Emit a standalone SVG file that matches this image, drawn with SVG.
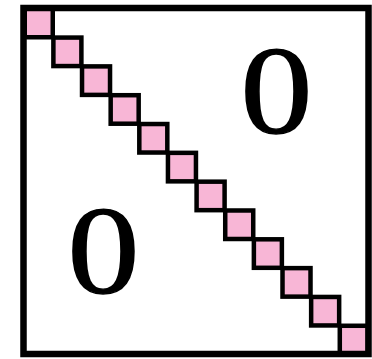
<svg xmlns="http://www.w3.org/2000/svg" width="372" height="359" viewBox="0 0 372 359">
<style>
.cell{fill:#f8b6d6;stroke:#000;stroke-width:4.5}
.zero{font-family:"Liberation Serif","Times New Roman",serif;font-size:124px;fill:#000;stroke:#000;stroke-width:1.4;text-anchor:middle}
</style>
<rect width="372" height="359" fill="#fff"/>
<g id="diagonal">
<rect class="cell" x="24.75" y="8.75" width="28" height="28.5"/>
<rect class="cell" x="53.39" y="37.57" width="28" height="28.5"/>
<rect class="cell" x="82.03" y="66.39" width="28" height="28.5"/>
<rect class="cell" x="110.67" y="95.21" width="28" height="28.5"/>
<rect class="cell" x="139.31" y="124.03" width="28" height="28.5"/>
<rect class="cell" x="167.95" y="152.85" width="28" height="28.5"/>
<rect class="cell" x="196.59" y="181.67" width="28" height="28.5"/>
<rect class="cell" x="225.23" y="210.49" width="28" height="28.5"/>
<rect class="cell" x="253.87" y="239.31" width="28" height="28.5"/>
<rect class="cell" x="282.51" y="268.13" width="28" height="28.5"/>
<rect class="cell" x="311.15" y="296.95" width="28" height="28.5"/>
<rect class="cell" x="339.79" y="325.77" width="28" height="28.5"/>
</g>
<g id="frame">
<rect x="23.5" y="8" width="345" height="346" fill="none" stroke="#000" stroke-width="6.5"/>
</g>
<g id="zero-upper">
<text class="zero" transform="translate(276.5,133) scale(1.16,1)">0</text>
</g>
<g id="zero-lower">
<text class="zero" transform="translate(103.5,293) scale(1.16,1)">0</text>
</g>
</svg>
